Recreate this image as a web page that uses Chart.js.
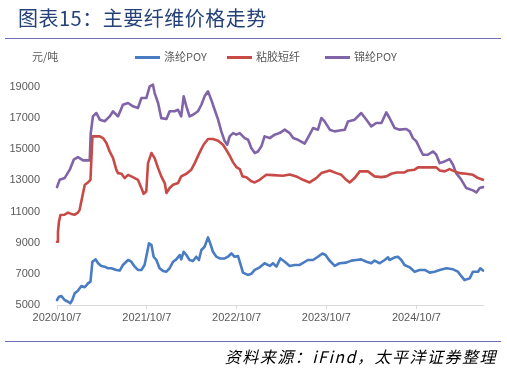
<!DOCTYPE html>
<html>
<head>
<meta charset="utf-8">
<script src="https://cdn.jsdelivr.net/npm/chart.js@4.4.1/dist/chart.umd.min.js"></script>
<style>
  body { margin: 0; background: #fff; font-family: "Noto Sans CJK SC", "Noto Sans", sans-serif; }
  #wrap { position: relative; width: 507px; height: 369px; overflow: hidden; }
  #chart { position: absolute; left: 0; top: 0; }
  .title { position: absolute; left: 18px; top: 3px; font-size: 20px; color: #24417a; letter-spacing: 0.5px; white-space: nowrap; }
  .rule { position: absolute; left: 5px; width: 496px; height: 1px; background: #6f6fb5; }
  .unit { position: absolute; left: 32px; top: 48px; font-size: 11px; color: #595959; }
  .leg { position: absolute; top: 48px; font-size: 11px; color: #595959; white-space: nowrap; }
  .leg i { display: inline-block; width: 25px; height: 3px; vertical-align: middle; margin-right: 4px; position: relative; top: -1px; }
  .src { position: absolute; right: 10px; top: 344px; font-size: 16px; font-style: italic; letter-spacing: 1.5px; color: #000; white-space: nowrap; }
</style>
</head>
<body>
<div id="wrap">
  <canvas id="chart" width="507" height="369"></canvas>
  <div class="title">图表15：主要纤维价格走势</div>
  <div class="rule" style="top:38px"></div>
  <div class="unit">元/吨</div>
  <div class="leg" style="left:135px"><i style="background:#4a7cc4"></i>涤纶POY</div>
  <div class="leg" style="left:227px"><i style="background:#c84a47"></i>粘胶短纤</div>
  <div class="leg" style="left:325px"><i style="background:#8064a8"></i>锦纶POY</div>
  <div class="rule" style="top:341px"></div>
  <div class="src">资料来源：iFind，太平洋证券整理</div>
</div>
<script>
// x values are days since 2020/10/7
const startDate = '2020/10/7';
const tickLabels = ['2020/10/7', '2021/10/7', '2022/10/7', '2023/10/7', '2024/10/7'];
const seriesNames = ['涤纶POY', '粘胶短纤', '锦纶POY'];
const yTicks = [5000, 7000, 9000, 11000, 13000, 15000, 17000, 19000];

const polyesterDays = [0, 8, 18, 31, 45, 54, 62, 72, 85, 99, 113, 126, 136, 144, 157, 167, 180, 194, 207, 221, 241, 255, 268, 289, 302, 316, 329, 343, 356, 363, 374, 384, 393, 404, 417, 431, 445, 458, 472, 485, 499, 505, 515, 526, 539, 553, 566, 577, 587, 600, 614, 623, 634, 648, 661, 682, 695, 709, 722, 736, 745, 756, 776, 790, 804, 824, 844, 865, 878, 892, 908, 926, 946, 966, 987, 1020, 1041, 1061, 1079, 1092, 1106, 1129, 1149, 1176, 1197, 1217, 1237, 1258, 1278, 1291, 1312, 1332, 1346, 1352, 1373, 1386, 1400, 1413, 1434, 1454, 1474, 1495, 1515, 1535, 1556, 1583, 1610, 1630, 1644, 1657, 1678, 1691, 1712, 1721, 1732];
const polyesterPrice = [5320, 5530, 5570, 5320, 5210, 5110, 5320, 5750, 5920, 6220, 6140, 6390, 6500, 7780, 7930, 7680, 7510, 7460, 7360, 7360, 7250, 7210, 7570, 7890, 7780, 7460, 7250, 7250, 7570, 8100, 8960, 8850, 8100, 7890, 7360, 7190, 7140, 7360, 7780, 7930, 8210, 7930, 8420, 8210, 7890, 7830, 8100, 7890, 8530, 8740, 9340, 8960, 8420, 8100, 7990, 7990, 8100, 8310, 8100, 8140, 7680, 7080, 6930, 7000, 7250, 7420, 7680, 7510, 7680, 7460, 7990, 7780, 7510, 7570, 7570, 7890, 7890, 8100, 8310, 8210, 7890, 7510, 7680, 7720, 7850, 7890, 7930, 7780, 7680, 7850, 7680, 7890, 8060, 7890, 8060, 8100, 7890, 7570, 7420, 7140, 7250, 7250, 7080, 7140, 7250, 7360, 7290, 7140, 6850, 6600, 6710, 7140, 7140, 7360, 7210];

const viscoseDays = [0, 4, 8, 14, 31, 45, 58, 72, 85, 92, 103, 113, 126, 136, 144, 153, 174, 187, 201, 214, 228, 241, 248, 262, 275, 289, 302, 316, 329, 343, 352, 363, 370, 384, 397, 411, 424, 438, 445, 458, 472, 492, 505, 526, 546, 560, 580, 596, 614, 634, 655, 675, 688, 702, 716, 729, 743, 754, 770, 790, 804, 824, 851, 878, 919, 946, 973, 1000, 1027, 1054, 1075, 1109, 1136, 1156, 1176, 1190, 1210, 1231, 1264, 1291, 1319, 1339, 1359, 1380, 1413, 1427, 1454, 1468, 1502, 1542, 1556, 1576, 1596, 1617, 1637, 1664, 1691, 1712, 1732];
const viscosePrice = [9060, 9700, 10350, 10780, 10800, 10930, 10850, 10800, 10930, 11110, 11970, 12720, 12870, 13040, 15830, 15830, 15830, 15720, 15400, 14860, 14430, 13690, 13470, 13430, 13150, 13360, 13260, 13150, 13040, 12510, 12140, 12290, 14110, 14760, 14430, 13790, 13260, 12830, 12190, 12510, 12720, 12830, 13260, 13430, 13690, 14110, 14800, 15290, 15660, 15660, 15550, 15290, 14970, 14590, 14160, 13860, 13730, 13260, 13210, 12940, 12870, 13040, 13360, 13340, 13300, 13380, 13260, 13040, 12870, 13150, 13470, 13640, 13470, 13360, 13040, 12870, 13150, 13580, 13580, 13260, 13210, 13260, 13430, 13510, 13510, 13640, 13690, 13840, 13840, 13840, 13640, 13580, 13730, 13580, 13470, 13430, 13360, 13150, 13040];

const nylonDays = [0, 11, 31, 52, 68, 85, 106, 126, 133, 137, 146, 160, 174, 194, 214, 228, 248, 268, 289, 309, 329, 343, 363, 377, 390, 397, 411, 424, 445, 458, 478, 492, 505, 515, 526, 539, 553, 573, 587, 600, 614, 627, 641, 655, 668, 682, 692, 702, 716, 729, 743, 763, 777, 790, 804, 817, 831, 844, 865, 885, 905, 926, 946, 960, 980, 1007, 1027, 1041, 1061, 1075, 1088, 1109, 1129, 1149, 1170, 1183, 1210, 1237, 1258, 1278, 1298, 1319, 1339, 1352, 1373, 1393, 1420, 1434, 1447, 1461, 1474, 1488, 1508, 1529, 1542, 1556, 1576, 1596, 1610, 1623, 1644, 1664, 1691, 1705, 1718, 1732];
const nylonPrice = [12570, 13040, 13150, 13690, 14330, 14500, 14290, 14290, 14290, 16000, 17110, 17330, 16900, 16800, 17110, 17440, 17110, 17860, 17970, 17760, 17650, 18290, 18290, 19040, 19150, 18610, 17970, 17000, 16940, 17440, 17440, 17540, 17110, 18400, 17760, 17110, 17220, 17440, 17860, 18400, 18720, 18190, 17540, 16900, 16150, 15510, 15290, 15830, 16040, 15940, 16040, 15720, 15610, 15080, 14760, 14860, 15190, 15830, 15720, 15940, 16040, 16260, 16040, 15720, 15610, 15360, 15940, 16360, 16260, 17010, 16790, 16260, 16150, 16210, 16260, 16790, 16900, 17330, 16900, 16470, 16690, 16690, 17370, 17010, 16360, 16260, 16300, 16150, 15720, 15510, 15080, 14650, 14650, 14860, 14650, 14110, 14220, 14370, 14010, 13470, 13040, 12510, 12360, 12230, 12510, 12570];

function dayOf(s) {
  const [a, b] = [s, startDate].map(t => { const p = t.split('/').map(Number); return Date.UTC(p[0], p[1] - 1, p[2]); });
  return Math.round((a - b) / 86400000);
}
const tickDays = tickLabels.map(dayOf);
const pts = (xs, ys) => xs.map((x, i) => ({ x: x, y: ys[i] }));

const gray = '#595959';
const tickFont = { family: 'Liberation Sans, Arial, sans-serif', size: 11 };

new Chart(document.getElementById('chart'), {
  type: 'line',
  data: {
    datasets: [
      { label: seriesNames[0], data: pts(polyesterDays, polyesterPrice), borderColor: '#4a7cc4' },
      { label: seriesNames[1], data: pts(viscoseDays, viscosePrice), borderColor: '#c84a47' },
      { label: seriesNames[2], data: pts(nylonDays, nylonPrice), borderColor: '#8064a8' }
    ]
  },
  options: {
    responsive: false,
    animation: false,
    devicePixelRatio: 1,
    parsing: false,
    elements: {
      line: { borderWidth: 2.6, tension: 0, borderJoinStyle: 'round', borderCapStyle: 'round' },
      point: { radius: 0 }
    },
    datasets: { line: { clip: false } },
    layout: { padding: { top: 87, right: 24, bottom: 34, left: 0 } },
    plugins: { legend: { display: false }, tooltip: { enabled: false } },
    scales: {
      x: {
        type: 'linear',
        min: 0,
        max: 1732,
        afterBuildTicks: (scale) => { scale.ticks = tickDays.map(v => ({ value: v })); },
        afterFit: (scale) => { scale.height = 30; },
        ticks: {
          autoSkip: false,
          maxRotation: 0,
          color: gray,
          font: tickFont,
          padding: 2,
          callback: (value) => tickLabels[tickDays.indexOf(value)]
        },
        grid: { drawOnChartArea: false, tickLength: 4, color: '#d9d9d9' },
        border: { color: '#d9d9d9' }
      },
      y: {
        min: 5000,
        max: 19000,
        afterBuildTicks: (scale) => { scale.ticks = yTicks.map(v => ({ value: v })); },
        afterFit: (scale) => { scale.width = 57; },
        ticks: { color: gray, font: tickFont, padding: 9, callback: (value) => String(value) },
        grid: { display: false },
        border: { display: false }
      }
    }
  }
});
</script>
</body>
</html>
